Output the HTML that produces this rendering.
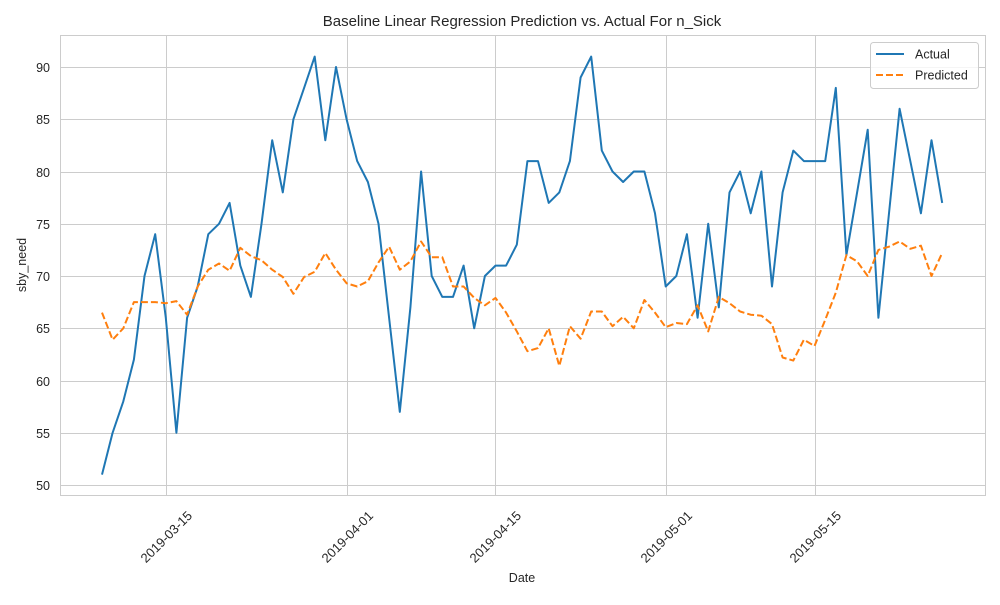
<!DOCTYPE html>
<html><head><meta charset="utf-8"><style>
body{margin:0;background:#fff;}
text{font-family:"Liberation Sans","DejaVu Sans",sans-serif;fill:#262626;}
</style></head><body>
<svg id="chart" width="1000" height="600" xmlns="http://www.w3.org/2000/svg">
<text x="522" y="26" font-size="15" text-anchor="middle">Baseline Linear Regression Prediction vs. Actual For n_Sick</text>
<g id="grid"></g>
<rect x="60.5" y="35.5" width="925" height="460" fill="none" stroke="#cccccc" stroke-width="1"/>
<g id="series"></g>
<text x="522" y="582" font-size="12.5" text-anchor="middle">Date</text>
<text transform="translate(26,265) rotate(-90)" font-size="12.5" text-anchor="middle">sby_need</text>
<g>
<rect x="870.5" y="42.5" width="108" height="46" rx="3" fill="#fff" fill-opacity="0.8" stroke="#cccccc"/>
<line x1="876" y1="54" x2="904" y2="54" stroke="#1f77b4" stroke-width="2"/>
<text x="915" y="58.5" font-size="12.5">Actual</text>
<line x1="876" y1="75" x2="904" y2="75" stroke="#ff7f0e" stroke-width="2" stroke-dasharray="7,3"/>
<text x="915" y="79.5" font-size="12.5">Predicted</text>
</g>
</svg>
<script>
const startDate = "2019-03-09";
const actual = [51,55,58,62,70,74,66,55,66,69,74,75,77,71,68,75,83,78,85,88,91,83,90,85,81,79,75,66,57,67,80,70,68,68,71,65,70,71,71,73,81,81,77,78,81,89,91,82,80,79,80,80,76,69,70,74,66,75,67,78,80,76,80,69,78,82,81,81,81,88,72,78,84,66,76,86,81,76,83,77];
const predicted = [66.5,63.9,65,67.5,67.5,67.5,67.4,67.6,66.3,69,70.6,71.2,70.5,72.7,71.9,71.5,70.6,69.9,68.3,69.9,70.4,72.2,70.6,69.3,69,69.5,71.3,72.8,70.6,71.4,73.3,71.8,71.8,69,69,67.9,67.2,67.9,66.5,64.7,62.8,63.1,65,61.4,65.2,64,66.6,66.6,65.2,66.1,65,67.7,66.5,65.1,65.5,65.4,67.2,64.7,68,67.4,66.6,66.3,66.2,65.4,62.2,61.9,63.9,63.3,65.8,68.4,72,71.4,70,72.5,72.8,73.3,72.6,72.9,70,72.2];
const yTicks = [50,55,60,65,70,75,80,85,90];
const xTickDays = [6,23,37,53,67];
const xTickLabels = ["2019-03-15","2019-04-01","2019-04-15","2019-05-01","2019-05-15"];

const NS="http://www.w3.org/2000/svg";
function xScale(i){return 102+i*10.635;}
function yScale(v){return 485-(v-50)*10.45;}
const grid=document.getElementById('grid');
const svg=document.getElementById('chart');
yTicks.forEach(t=>{
  const y=Math.round(yScale(t))+0.5;
  const l=document.createElementNS(NS,'line');
  l.setAttribute('x1',60);l.setAttribute('x2',985);l.setAttribute('y1',y);l.setAttribute('y2',y);
  l.setAttribute('stroke','#cccccc');
  
  
  grid.appendChild(l);
  const tx=document.createElementNS(NS,'text');
  tx.setAttribute('x',50);tx.setAttribute('y',y+4.5);tx.setAttribute('font-size','12.5');tx.setAttribute('text-anchor','end');
  tx.textContent=t;
  
  
  svg.appendChild(tx);
});
xTickDays.forEach((d,k)=>{
  const x=Math.round(xScale(d))+0.5;
  const l=document.createElementNS(NS,'line');
  l.setAttribute('x1',x);l.setAttribute('x2',x);l.setAttribute('y1',35);l.setAttribute('y2',495);
  l.setAttribute('stroke','#cccccc');
  
  
  grid.appendChild(l);
  const tx=document.createElementNS(NS,'text');
  tx.setAttribute('transform','translate('+(x+3)+',540) rotate(-45)');
  tx.setAttribute('font-size','13');tx.setAttribute('text-anchor','middle');
  tx.textContent=xTickLabels[k];
  
  
  svg.appendChild(tx);
});
const series=document.getElementById('series');
function drawLine(vals,color,dash,name){
  const p=document.createElementNS(NS,'polyline');
  p.setAttribute('points',vals.map((v,i)=>xScale(i).toFixed(1)+','+yScale(v).toFixed(1)).join(' '));
  p.setAttribute('fill','none');p.setAttribute('stroke',color);p.setAttribute('stroke-width','2');
  p.setAttribute('stroke-linejoin','round');
  if(dash)p.setAttribute('stroke-dasharray',dash);
  
  
  series.appendChild(p);
}
drawLine(actual,'#1f77b4',null,'actual-line');
drawLine(predicted,'#ff7f0e','7,3','predicted-line');
</script>
</body></html>
